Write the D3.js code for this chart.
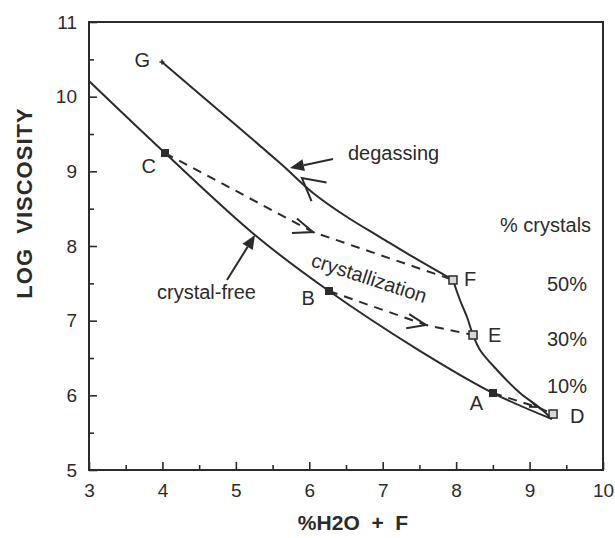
<!DOCTYPE html>
<html>
<head>
<meta charset="utf-8">
<script src="https://cdn.jsdelivr.net/npm/d3@7"></script>
<style>
body { margin: 0; background: #fff; }
svg { display: block; font-family: "Liberation Sans", Arial, Helvetica, sans-serif; }
</style>
</head>
<body>
<svg id="chart" width="615" height="538"></svg>
<script>

/*------------------ values ------------------*/

const xTicks = [3, 4, 5, 6, 7, 8, 9, 10]
const yTicks = [5, 6, 7, 8, 9, 10, 11]
const xMinor = [3.5, 4.5, 5.5, 6.5, 7.5, 8.5, 9.5]
const yMinor = [5.5, 6.5, 7.5, 8.5, 9.5, 10.5]

// solid curves  [%H2O+F, log viscosity]
const crystalFree = [[3.0, 10.21], [4.035, 9.245], [5.26, 8.147], [6.268, 7.397],
	[7.467, 6.62], [8.502, 6.031], [9.305, 5.683]]
const degassingUpper = [[3.994, 10.464], [4.92, 9.687], [5.601, 9.111], [6.051, 8.71],
	[6.514, 8.388], [6.963, 8.12], [7.412, 7.853], [7.957, 7.545]]
const degassingLower = [[7.957, 7.545], [8.052, 7.277], [8.148, 7.049], [8.23, 6.808],
	[8.325, 6.607], [8.556, 6.339], [8.87, 6.031], [9.142, 5.83], [9.305, 5.683]]

// dashed crystallization paths, middle point carries the arrow
const pathCF = [[4.035, 9.245], [6.05, 8.187], [7.957, 7.545]]
const pathBE = [[6.268, 7.397], [7.589, 6.942], [8.23, 6.808]]
const pathAD = [[8.502, 6.031], [9.101, 5.844], [9.32, 5.75]]

// labelled points
const pointNames = ['G', 'C', 'B', 'A', 'F', 'E', 'D']
const pointX = [3.994, 4.035, 6.268, 8.502, 7.957, 8.23, 9.32]
const pointY = [10.464, 9.245, 7.397, 6.031, 7.545, 6.808, 5.75]
const pointKind = ['star', 'filled', 'filled', 'filled', 'open', 'open', 'open']

// % crystals column
const pctLabels = ['50%', '30%', '10%']
const pctY = [7.49, 6.75, 6.13]

// annotation arrows [from, to]
const degassingArrow = [[6.323, 9.165], [5.737, 9.044]]
const crystalFreeArrow = [[4.879, 7.545], [5.261, 8.147]]
const directionTip = [5.90, 8.91]


/*------------------------- setup ------------------------------*/

const svg = d3.select('#chart')
const ink = '#2b2b2b'

const x = d3.scaleLinear().domain([3, 10]).range([89, 603])
const y = d3.scaleLinear().domain([5, 11]).range([470, 22])

const line = d3.line()
	.x(d => x(d[0]))
	.y(d => y(d[1]))
	.curve(d3.curveCatmullRom.alpha(0.5))

const straight = d3.line()
	.x(d => x(d[0]))
	.y(d => y(d[1]))


/*-------------------------- axes ------------------------------*/

function styleAxis(g) {
	g.select('.domain').remove()
	g.selectAll('.tick line').attr('stroke', ink).attr('stroke-width', 1.6)
	g.selectAll('.tick text')
		.attr('fill', ink)
		.style('font-size', '19px')
		.style('font-family', '"Liberation Sans", Arial, sans-serif')
}

svg.append('g')
	.attr('transform', 'translate(0,470)')
	.call(d3.axisBottom(x).tickValues(xTicks).tickSize(-8).tickSizeOuter(0)
		.tickPadding(14).tickFormat(d3.format('d')))
	.call(styleAxis)

svg.append('g')
	.attr('transform', 'translate(0,470)')
	.call(d3.axisBottom(x).tickValues(xMinor).tickSize(-5).tickSizeOuter(0).tickFormat(''))
	.call(styleAxis)

svg.append('g')
	.attr('transform', 'translate(89,0)')
	.call(d3.axisLeft(y).tickValues(yTicks).tickSize(-8).tickSizeOuter(0)
		.tickPadding(12).tickFormat(d3.format('d')))
	.call(styleAxis)

svg.append('g')
	.attr('transform', 'translate(89,0)')
	.call(d3.axisLeft(y).tickValues(yMinor).tickSize(-5).tickSizeOuter(0).tickFormat(''))
	.call(styleAxis)

// frame
svg.append('rect')
	.attr('x', x(3))
	.attr('y', y(11))
	.attr('width', x(10) - x(3))
	.attr('height', y(5) - y(11))
	.attr('fill', 'none')
	.attr('stroke', ink)
	.attr('stroke-width', 2)

// axis titles
svg.append('text')
	.attr('x', 353)
	.attr('y', 530)
	.attr('text-anchor', 'middle')
	.attr('fill', ink)
	.style('font-size', '21px')
	.style('font-weight', 'bold')
	.style('white-space', 'pre')
	.text('%H2O  +  F')

svg.append('text')
	.attr('transform', 'translate(32,203) rotate(-90)')
	.attr('text-anchor', 'middle')
	.attr('fill', ink)
	.style('font-size', '22px')
	.style('font-weight', 'bold')
	.style('letter-spacing', '1px')
	.style('white-space', 'pre')
	.text('LOG  VISCOSITY')


/*-------------------------- curves ----------------------------*/

const curves = svg.append('g')
	.attr('fill', 'none')
	.attr('stroke', ink)
	.attr('stroke-width', 2)

curves.selectAll('path.solid')
	.data([crystalFree, degassingUpper, degassingLower])
	.enter()
	.append('path')
	.attr('class', 'solid')
	.attr('d', d => line(d))

curves.selectAll('path.dashed')
	.data([pathCF, pathBE, pathAD])
	.enter()
	.append('path')
	.attr('class', 'dashed')
	.attr('stroke-dasharray', '9,7')
	.attr('d', d => straight(d))

// open chevrons along the dashed paths, pointing forward
function chevron(tip, angle, len, spread) {
	const a1 = angle + Math.PI - spread
	const a2 = angle + Math.PI + spread
	return `M${tip[0] + len * Math.cos(a1)},${tip[1] + len * Math.sin(a1)}` +
		`L${tip[0]},${tip[1]}` +
		`L${tip[0] + len * Math.cos(a2)},${tip[1] + len * Math.sin(a2)}`
}

;[[pathCF, 21], [pathBE, 20], [pathAD, 8]].forEach(([p, len]) => {
	const tip = [x(p[1][0]), y(p[1][1])]
	const next = [x(p[2][0]), y(p[2][1])]
	const ang = Math.atan2(next[1] - tip[1], next[0] - tip[0])
	curves.append('path')
		.attr('d', chevron(tip, ang, len, 0.37))
})

// direction chevron on the degassing curve (points back toward G)
{
	const tip = [x(directionTip[0]), y(directionTip[1])]
	const back = [x(degassingUpper[1][0]), y(degassingUpper[1][1])]
	const ang = Math.atan2(back[1] - tip[1], back[0] - tip[0])
	curves.append('path')
		.attr('d', chevron(tip, ang, 25, 0.5))
}

// filled arrows for the text labels
function filledArrow(a) {
	const from = [x(a[0][0]), y(a[0][1])]
	const tip = [x(a[1][0]), y(a[1][1])]
	const ang = Math.atan2(tip[1] - from[1], tip[0] - from[0])
	const len = 14, half = 6
	const bx = tip[0] - len * Math.cos(ang)
	const by = tip[1] - len * Math.sin(ang)
	svg.append('line')
		.attr('x1', from[0]).attr('y1', from[1])
		.attr('x2', bx).attr('y2', by)
		.attr('stroke', ink).attr('stroke-width', 2)
	svg.append('path')
		.attr('d', `M${tip[0]},${tip[1]}` +
			`L${bx + half * Math.sin(ang)},${by - half * Math.cos(ang)}` +
			`L${bx - half * Math.sin(ang)},${by + half * Math.cos(ang)}Z`)
		.attr('fill', ink)
}
filledArrow(degassingArrow)
filledArrow(crystalFreeArrow)


/*-------------------------- points ----------------------------*/

const pts = pointNames.map((n, i) => ({ name: n, x: pointX[i], y: pointY[i], kind: pointKind[i] }))

// label placement relative to each marker (pixels)
const labelOffset = {
	G: [-12, 5, 'end'], C: [-9, 20, 'end'], B: [-14, 14, 'end'], A: [-10, 17, 'end'],
	F: [11, 6, 'start'], E: [15, 7, 'start'], D: [17, 9, 'start']
}

const marks = svg.append('g')

marks.selectAll('rect.filled')
	.data(pts.filter(d => d.kind === 'filled'))
	.enter()
	.append('rect')
	.attr('x', d => x(d.x) - 4)
	.attr('y', d => y(d.y) - 4)
	.attr('width', 8)
	.attr('height', 8)
	.attr('fill', ink)

marks.selectAll('rect.open')
	.data(pts.filter(d => d.kind === 'open'))
	.enter()
	.append('rect')
	.attr('x', d => x(d.x) - 4)
	.attr('y', d => y(d.y) - 4)
	.attr('width', 8)
	.attr('height', 8)
	.attr('fill', '#d8d8d8')
	.attr('stroke', ink)
	.attr('stroke-width', 1.5)

marks.selectAll('path.star')
	.data(pts.filter(d => d.kind === 'star'))
	.enter()
	.append('path')
	.attr('d', d3.symbol(d3.symbolCross, 14))
	.attr('transform', d => `translate(${x(d.x)},${y(d.y)})`)
	.attr('fill', ink)

marks.selectAll('text')
	.data(pts)
	.enter()
	.append('text')
	.attr('x', d => x(d.x) + labelOffset[d.name][0])
	.attr('y', d => y(d.y) + labelOffset[d.name][1])
	.attr('text-anchor', d => labelOffset[d.name][2])
	.attr('fill', ink)
	.style('font-size', '20px')
	.text(d => d.name)


/*------------------------ annotations -------------------------*/

const notes = svg.append('g')
	.attr('fill', ink)
	.style('font-size', '20px')

notes.append('text').attr('x', x(6.527)).attr('y', y(9.152)).text('degassing')
notes.append('text').attr('x', x(3.926)).attr('y', y(7.29)).text('crystal-free')
notes.append('text')
	.attr('transform', `translate(${x(6.01)},${y(7.732)}) rotate(18)`)
	.text('crystallization')
notes.append('text').attr('x', x(8.597)).attr('y', y(8.187)).text('% crystals')

notes.selectAll('text.pct')
	.data(pctLabels)
	.enter()
	.append('text')
	.attr('class', 'pct')
	.attr('x', x(9.237))
	.attr('y', (d, i) => y(pctY[i]))
	.attr('dy', '0.35em')
	.text(d => d)

</script>
</body>
</html>
